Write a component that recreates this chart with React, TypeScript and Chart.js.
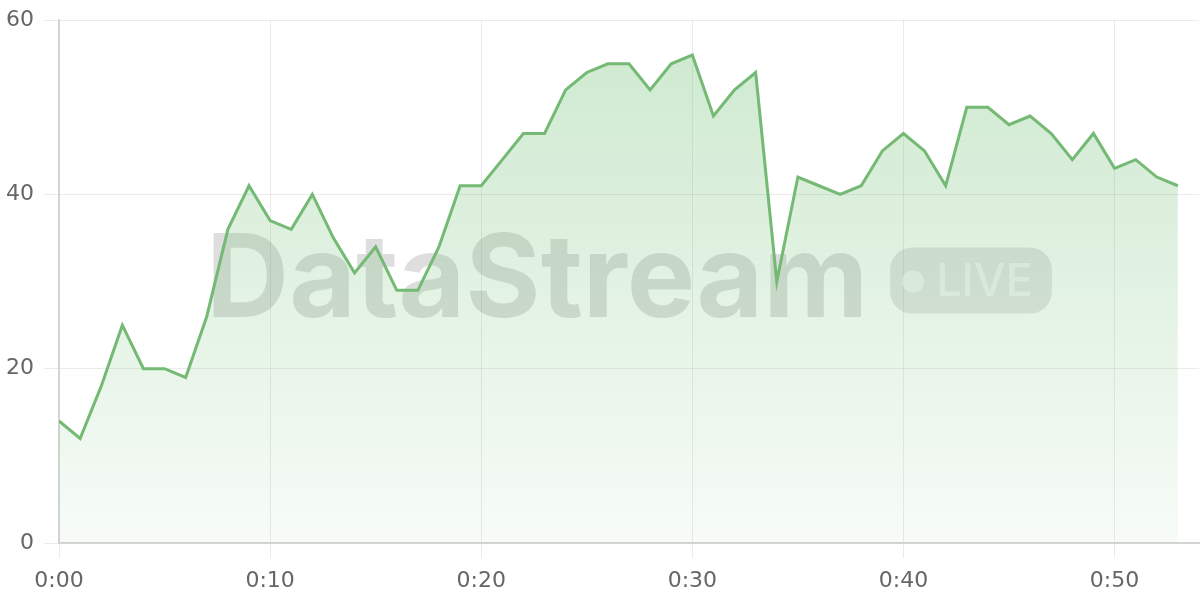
import React, { useEffect, useRef } from 'react';
import Chart, { Plugin } from 'chart.js/auto';

// minutes since start of stream
const minutes = [
    0, 1, 2, 3, 4, 5, 6, 7, 8, 9,
    10, 11, 12, 13, 14, 15, 16, 17, 18, 19,
    20, 21, 22, 23, 24, 25, 26, 27, 28, 29,
    30, 31, 32, 33, 34, 35, 36, 37, 38, 39,
    40, 41, 42, 43, 44, 45, 46, 47, 48, 49,
    50, 51, 52, 53
];

const viewers = [
    14, 12, 18, 25, 20, 20, 19, 26, 36, 41,
    37, 36, 40, 35, 31, 34, 29, 29, 34, 41,
    41, 44, 47, 47, 52, 54, 55, 55, 52, 55,
    56, 49, 52, 54, 30, 42, 41, 40, 41, 45,
    47, 45, 41, 50, 50, 48, 49, 47, 44, 47,
    43, 44, 42, 41
];

const xTicks = [0, 10, 20, 30, 40, 50];
const yTicks = [0, 20, 40, 60];

const WATERMARK = 'DataStream';
const BADGE = 'LIVE';

const formatMinute = (v: number) => `0:${String(v).padStart(2, '0')}`;

// brand watermark drawn behind the data
const watermarkPlugin: Plugin<'line'> = {
    id: 'watermark',
    beforeDatasetsDraw(chart) {
        const { ctx, chartArea } = chart;
        const cx = (chartArea.left + chartArea.right) / 2;
        const cy = (chartArea.top + chartArea.bottom) / 2;

        ctx.save();
        ctx.font = 'bold 115px Inter';
        const textW = ctx.measureText(WATERMARK).width;
        ctx.font = '500 45px Inter';
        const badgeTextW = ctx.measureText(BADGE).width;

        const gap = 22;
        const pillW = 46 + badgeTextW + 19;
        const total = textW + gap + pillW;
        const x0 = cx - total / 2;

        ctx.fillStyle = 'rgba(0, 0, 0, 0.13)';
        ctx.font = 'bold 115px Inter';
        ctx.textBaseline = 'alphabetic';
        ctx.fillText(WATERMARK, x0, cy + 35);

        const px = x0 + textW + gap;
        const py = cy - 34;
        ctx.fillStyle = 'rgba(0, 0, 0, 0.1)';
        ctx.beginPath();
        ctx.roundRect(px, py, pillW, 66, 22);
        ctx.fill();

        ctx.fillStyle = 'rgba(255, 255, 255, 0.55)';
        ctx.beginPath();
        ctx.arc(px + 23, cy, 11, 0, Math.PI * 2);
        ctx.fill();
        ctx.font = '500 45px Inter';
        ctx.fillText(BADGE, px + 46, cy + 14);
        ctx.restore();
    }
};

export default function App() {
    const chartRef = useRef<HTMLCanvasElement>(null);
    const chartInstance = useRef<Chart | null>(null);

    useEffect(() => {
        const ctx = chartRef.current?.getContext('2d');
        if (!ctx) return;

        if (chartInstance.current) {
            chartInstance.current.destroy();
        }

        chartInstance.current = new Chart(ctx, {
            type: 'line',
            data: {
                datasets: [{
                    label: 'Viewers',
                    data: minutes.map((m, i) => ({ x: m, y: viewers[i] })),
                    borderColor: '#74b974',
                    borderWidth: 3,
                    pointRadius: 0,
                    tension: 0,
                    fill: 'origin',
                    backgroundColor: (c: any) => {
                        const area = c.chart.chartArea;
                        if (!area) return 'rgba(102, 187, 106, 0.2)';
                        const g = c.chart.ctx.createLinearGradient(0, area.top, 0, area.bottom);
                        g.addColorStop(0, 'rgba(102, 187, 106, 0.33)');
                        g.addColorStop(1, 'rgba(102, 187, 106, 0.05)');
                        return g;
                    }
                }]
            },
            options: {
                responsive: true,
                maintainAspectRatio: false,
                animation: false,
                layout: { padding: { top: 0, left: 0, right: 1, bottom: 0 } },
                scales: {
                    x: {
                        type: 'linear',
                        min: 0,
                        max: 54,
                        afterBuildTicks: (scale: any) => {
                            scale.ticks = xTicks.map(v => ({ value: v }));
                        },
                        afterFit: (scale: any) => {
                            scale.height = 57;
                        },
                        grid: { color: 'rgba(0, 0, 0, 0.08)', tickLength: 15 },
                        border: { color: '#d4d4d4', width: 2 },
                        ticks: {
                            color: '#666',
                            padding: 10,
                            maxRotation: 0,
                            font: { family: 'DejaVu Sans', size: 22 },
                            callback: (v: string | number) => formatMinute(Number(v))
                        }
                    },
                    y: {
                        min: 0,
                        max: 60,
                        afterBuildTicks: (scale: any) => {
                            scale.ticks = yTicks.map(v => ({ value: v }));
                        },
                        afterFit: (scale: any) => {
                            scale.width = 59;
                        },
                        grid: { color: 'rgba(0, 0, 0, 0.08)', tickLength: 15 },
                        border: { color: '#d4d4d4', width: 2 },
                        ticks: {
                            color: '#666',
                            padding: 10,
                            font: { family: 'DejaVu Sans', size: 22 }
                        }
                    }
                },
                plugins: {
                    legend: { display: false },
                    tooltip: { enabled: false }
                }
            },
            plugins: [watermarkPlugin]
        });

        return () => {
            if (chartInstance.current) {
                chartInstance.current.destroy();
                chartInstance.current = null;
            }
        };
    }, []);

    return (
        <div style={{ position: 'fixed', left: 0, top: -3, width: 1200, height: 603, background: '#fff' }}>
            <canvas ref={chartRef}></canvas>
        </div>
    );
}
